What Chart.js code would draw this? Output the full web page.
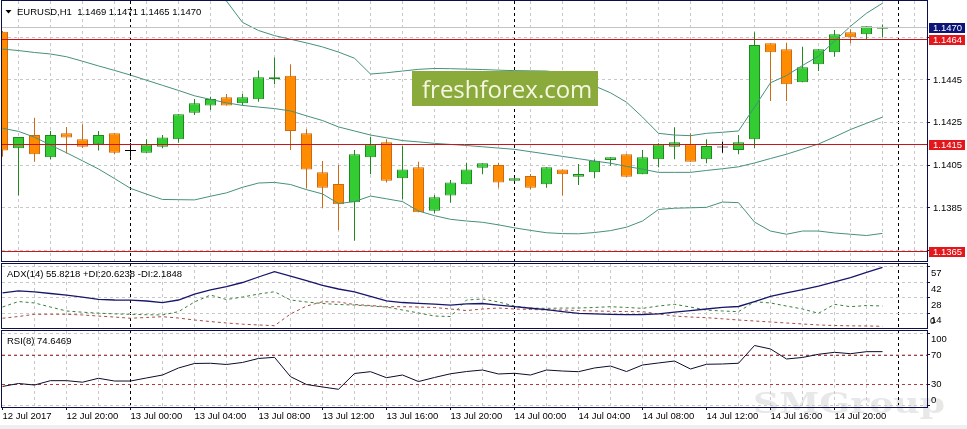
<!DOCTYPE html>
<html>
<head>
<meta charset="utf-8">
<title>EURUSD,H1</title>
<script src="https://cdn.jsdelivr.net/npm/chart.js@4.4.1/dist/chart.umd.min.js"></script>
<style>
  html, body { margin: 0; padding: 0; background: #fff; }
  #wrap { position: relative; width: 967px; height: 429px; overflow: hidden; background: #fff; }
  #wrap canvas { position: absolute; left: 0; }
  #cMain { top: 0; }
  #cAdx { top: 262px; }
  #cRsi { top: 329px; }
</style>
</head>
<body>
<div id="wrap">
  <canvas id="cMain" width="967" height="263"></canvas>
  <canvas id="cAdx" width="967" height="68"></canvas>
  <canvas id="cRsi" width="967" height="100"></canvas>
</div>
<script>
// EURUSD H1, 12 Jul 16:00 .. 14 Jul 23:00 (one entry per bar)
const opens = [1.14676,1.14130,1.14192,1.14088,1.14200,1.14172,1.14149,1.14200,1.14117,1.14109,
  1.14137,1.14172,1.14297,1.14330,1.14369,1.14341,1.14360,1.14453,1.14470,1.14200,
  1.14017,1.13962,1.13877,1.14088,1.14158,1.13989,1.14041,1.13837,1.13908,1.13961,
  1.14039,1.14052,1.13978,1.14000,1.13961,1.14031,1.13997,1.14017,1.14075,1.14102,
  1.14008,1.14078,1.14137,1.14149,1.14078,1.14133,1.14122,1.14172,1.14622,1.14594,
  1.14439,1.14524,1.14580,1.14674,1.14664,1.14690];
const highs = [1.14680,1.14183,1.14273,1.14211,1.14230,1.14242,1.14211,1.14200,1.14155,1.14172,
  1.14192,1.14289,1.14361,1.14372,1.14384,1.14384,1.14494,1.14555,1.14524,1.14219,
  1.14070,1.14052,1.14122,1.14184,1.14172,1.14141,1.14067,1.13911,1.13981,1.14062,
  1.14060,1.14062,1.13989,1.14009,1.14041,1.14031,1.14056,1.14078,1.14088,1.14102,
  1.14122,1.14153,1.14228,1.14200,1.14172,1.14161,1.14192,1.14674,1.14622,1.14625,
  1.14606,1.14594,1.14684,1.14688,1.14702,1.14710];
const lows = [1.14090,1.13908,1.14067,1.14078,1.14106,1.14131,1.14119,1.14102,1.14090,1.14109,
  1.14130,1.14156,1.14286,1.14309,1.14330,1.14330,1.14348,1.14430,1.14122,1.13942,
  1.13849,1.13747,1.13697,1.14008,1.13970,1.13891,1.13830,1.13825,1.13875,1.13961,
  1.14008,1.13945,1.13978,1.13938,1.13945,1.13908,1.13958,1.13989,1.14048,1.13997,
  1.14008,1.14041,1.14078,1.14067,1.14060,1.14109,1.14102,1.14130,1.14352,1.14352,
  1.14439,1.14492,1.14559,1.14622,1.14641,1.14650];
const closes = [1.14119,1.14183,1.14102,1.14192,1.14181,1.14137,1.14192,1.14109,1.14117,1.14149,
  1.14181,1.14289,1.14341,1.14361,1.14330,1.14369,1.14463,1.14463,1.14211,1.14031,
  1.13945,1.13867,1.14102,1.14149,1.13978,1.14031,1.13830,1.13900,1.13970,1.14031,
  1.14060,1.13969,1.13989,1.13945,1.14041,1.14008,1.14009,1.14072,1.14088,1.13997,
  1.14088,1.14149,1.14158,1.14067,1.14141,1.14133,1.14158,1.14614,1.14580,1.14430,
  1.14510,1.14594,1.14664,1.14650,1.14702,1.14700];

// Bollinger bands
const bbUpper = [1.14967,1.14968,1.14976,1.14998,1.15010,1.15005,1.14999,1.15002,1.15005,1.14983,
  1.14959,1.14913,1.14865,1.14848,1.14820,1.14720,1.14682,1.14658,1.14641,1.14624,
  1.14605,1.14581,1.14552,1.14478,1.14484,1.14492,1.14500,1.14504,1.14503,1.14501,
  1.14499,1.14496,1.14494,1.14493,1.14492,1.14483,1.14459,1.14422,1.14390,1.14346,
  1.14276,1.14200,1.14192,1.14189,1.14200,1.14205,1.14211,1.14323,1.14437,1.14471,
  1.14518,1.14562,1.14632,1.14702,1.14763,1.14810];
const bbMiddle = [1.14595,1.14588,1.14579,1.14572,1.14559,1.14538,1.14516,1.14495,1.14473,1.14449,
  1.14425,1.14401,1.14376,1.14359,1.14343,1.14331,1.14323,1.14316,1.14305,1.14282,
  1.14260,1.14230,1.14211,1.14192,1.14179,1.14166,1.14160,1.14153,1.14148,1.14143,
  1.14137,1.14131,1.14125,1.14114,1.14103,1.14092,1.14081,1.14070,1.14060,1.14045,
  1.14032,1.14017,1.14017,1.14017,1.14026,1.14034,1.14043,1.14061,1.14082,1.14102,
  1.14126,1.14150,1.14183,1.14218,1.14247,1.14276];
const bbLower = [1.14224,1.14209,1.14182,1.14145,1.14109,1.14071,1.14033,1.13988,1.13942,1.13915,
  1.13890,1.13889,1.13888,1.13905,1.13921,1.13947,1.13967,1.13970,1.13960,1.13936,
  1.13916,1.13871,1.13880,1.13906,1.13893,1.13880,1.13836,1.13814,1.13797,1.13789,
  1.13783,1.13771,1.13757,1.13745,1.13734,1.13730,1.13729,1.13735,1.13744,1.13760,
  1.13789,1.13843,1.13849,1.13851,1.13853,1.13878,1.13875,1.13784,1.13742,1.13727,
  1.13742,1.13742,1.13733,1.13727,1.13721,1.13731];

// ADX(14)
const adxMain = [32.6,34.3,33.4,32.0,30.6,28.8,26.7,26.1,25.9,25.2,
  23.8,26.1,31.5,35.2,38.2,42.0,47.0,51.8,47.9,43.8,
  39.3,36.1,33.4,29.3,25.2,23.8,23.1,22.3,21.5,22.5,
  22.9,21.5,20.0,18.6,17.3,15.6,14.0,13.5,13.1,12.8,
  12.9,13.4,15.0,16.5,17.9,19.3,20.2,24.7,29.3,32.5,
  35.6,38.8,42.5,46.5,51.1,55.8218];
const plusDI = [19.7,24.7,23.4,19.7,16.1,15.0,14.1,13.5,13.1,12.7,
  12.5,15.5,24.3,30.6,26.5,28.8,31.5,33.6,26.1,24.3,
  22.9,22.0,21.5,20.6,19.7,17.0,14.3,11.5,11.1,26.1,
  27.0,24.3,20.6,18.8,18.5,18.8,18.8,19.3,20.0,19.3,
  18.5,20.6,22.2,19.7,16.9,16.1,15.5,24.5,23.4,20.6,
  17.9,14.0,22.2,20.0,21.1,20.6238];
const minusDI = [9.5,11.1,13.1,13.1,13.1,12.5,11.5,10.6,9.5,10.2,
  10.9,9.7,7.9,6.5,5.2,4.1,3.4,2.7,13.4,20.6,
  24.5,24.3,22.0,21.1,20.0,20.0,19.7,19.3,17.9,16.5,
  17.9,18.8,17.9,17.5,17.0,17.0,16.5,16.1,15.8,15.6,
  15.5,13.4,11.5,10.6,10.0,9.0,7.9,7.0,6.1,5.2,
  4.3,3.4,2.9,2.6,2.5,2.1848];

// RSI(8)
const rsi = [26.6,30.7,28.6,34.6,34.6,32.5,37.9,34.1,34.1,38.3,
  42.4,52.1,58.3,58.6,56.9,59.7,65.2,66.8,40.1,29.3,
  25.9,22.7,44.5,47.0,38.7,42.4,33.4,39.0,44.1,47.2,
  49.3,43.8,44.8,42.4,49.3,47.9,47.0,52.1,54.8,47.2,
  56.2,59.0,61.7,50.7,57.2,57.6,58.6,83.1,78.3,64.5,
  66.6,71.0,73.7,71.8,74.6,74.6469];

const timeLabels = ['12 Jul 2017','12 Jul 20:00','13 Jul 00:00','13 Jul 04:00','13 Jul 08:00',
  '13 Jul 12:00','13 Jul 16:00','13 Jul 20:00','14 Jul 00:00','14 Jul 04:00','14 Jul 08:00',
  '14 Jul 12:00','14 Jul 16:00','14 Jul 20:00'];
const labelEvery = 4;            // bars between time labels
const gridEvery = 2;             // bars between vertical grid lines
const daySeparators = [8, 32, 56];
const priceTicks = [1.1365, 1.1385, 1.1405, 1.1425, 1.1445, 1.1465];
const priceLevels = [1.1464, 1.1415, 1.1365];
const adxTicks = [57, 42, 28, 14];
const rsiTicks = [100, 70, 30, 0];
const rsiLevels = [70, 30];

// look
const FONT = { family: "'Liberation Sans', Arial, sans-serif", size: 9.5 };
const FONT_CSS = "9.5px 'Liberation Sans', Arial, sans-serif";
const NAVY = '#0e0e48';
const GRID = '#c8c8c8';
const BB = '#46907c';
const FILL = { bull: '#33cc33', bear: '#ff8c00', doji: '#000000' };
const EDGE = { bull: '#1e8a1e', bear: '#cc6a14', doji: '#000000' };
const X_MIN = -1 / 32;
const X_MAX = X_MIN + 925 / 16;

const bars = closes.map((c, i) => i);
const tone = i => closes[i] > opens[i] ? 'bull' : (closes[i] < opens[i] ? 'bear' : 'doji');
const timeLabel = v => (v % labelEvery === 0 && timeLabels[v / labelEvery]) || '';
const series = arr => bars.map(i => ({ x: i, y: arr[i] }));

function lineSet(arr, color, width, dash, order) {
  return { type: 'line', data: series(arr), borderColor: color, borderWidth: width,
    borderDash: dash || [], pointRadius: 0, tension: 0, clip: 0, order: order || 0 };
}

function timeScales(showLabels) {
  return {
    x: {
      type: 'linear', min: X_MIN, max: X_MAX, offset: false,
      afterBuildTicks: s => {
        const t = [];
        for (let v = 0; v <= X_MAX; v += gridEvery) t.push({ value: v });
        s.ticks = t;
      },
      afterFit: s => { s.height = showLabels ? 20 : 0; s.paddingLeft = 0; s.paddingRight = 0; },
      grid: {
        color: c => (c.tick && c.tick.value === 0 ? 'rgba(0,0,0,0)' : GRID),
        drawTicks: showLabels, tickLength: 3, tickWidth: 1,
        tickColor: c => (c.tick && timeLabel(c.tick.value) ? NAVY : 'rgba(0,0,0,0)')
      },
      border: { display: false, dash: [3, 3] },
      ticks: { display: showLabels, autoSkip: false, maxRotation: 0, minRotation: 0,
        align: 'start', padding: 1, font: FONT, color: '#000', callback: v => timeLabel(v) }
    },
    xs: {
      type: 'linear', min: X_MIN, max: X_MAX, offset: false,
      afterBuildTicks: s => { s.ticks = daySeparators.map(v => ({ value: v })); },
      afterFit: s => { s.height = 0; s.paddingLeft = 0; s.paddingRight = 0; },
      grid: { color: '#000', drawTicks: false },
      border: { display: false, dash: [3, 3] },
      ticks: { display: false }
    }
  };
}

function rightAxis(min, max, ticks, tickOpts) {
  return {
    position: 'right', min: min, max: max,
    afterBuildTicks: s => { s.ticks = ticks.map(v => ({ value: v })); },
    afterFit: s => { s.width = 40; s.paddingTop = 0; s.paddingBottom = 0; },
    grid: { color: GRID, tickColor: NAVY, tickLength: 3 },
    border: { display: false, dash: [3, 3] },
    ticks: Object.assign({ font: FONT, color: '#000', autoSkip: false, padding: 1 }, tickOpts)
  };
}

function frame(ctx, a) {
  ctx.strokeStyle = NAVY;
  ctx.lineWidth = 1;
  ctx.strokeRect(a.left - 0.5, a.top - 0.5, a.width + 1, a.height + 1);
}

function hline(ctx, a, y, color, dash) {
  const yy = Math.round(y) + 0.5;
  ctx.strokeStyle = color;
  ctx.lineWidth = 1;
  ctx.setLineDash(dash || []);
  ctx.beginPath();
  ctx.moveTo(a.left, yy);
  ctx.lineTo(a.right, yy);
  ctx.stroke();
  ctx.setLineDash([]);
}

function priceBox(ctx, a, y, text, bg) {
  const yy = Math.round(y);
  ctx.fillStyle = bg;
  ctx.fillRect(a.right + 2, yy - 4, 36, 10);
  ctx.fillStyle = '#fff';
  ctx.font = FONT_CSS;
  ctx.textAlign = 'left';
  ctx.textBaseline = 'middle';
  ctx.fillText(text, a.right + 6, yy + 1);
}

const last = closes.length - 1;

// ---- price panel
const mainDecor = {
  id: 'mainDecor',
  afterDatasetsDraw(chart) {
    const { ctx, chartArea: a, scales: { y } } = chart;
    ctx.save();
    ctx.beginPath();
    ctx.rect(a.left, a.top, a.width, a.height);
    ctx.clip();
    hline(ctx, a, y.getPixelForValue(closes[last]), '#c4c4c4');
    priceLevels.forEach(p => hline(ctx, a, y.getPixelForValue(p), '#c8141c'));
    ctx.fillStyle = '#8aaa3c';
    ctx.fillRect(412, 71, 186, 35);
    ctx.fillStyle = '#f6f6e2';
    ctx.font = "24px 'Open Sans', sans-serif";
    ctx.textAlign = 'left';
    ctx.textBaseline = 'alphabetic';
    ctx.fillText('freshforex.com', 422, 98);
    ctx.restore();
  },
  afterDraw(chart) {
    const { ctx, chartArea: a, scales: { y } } = chart;
    ctx.save();
    frame(ctx, a);
    ctx.fillStyle = '#000';
    ctx.beginPath();
    ctx.moveTo(5.5, 10);
    ctx.lineTo(11.5, 10);
    ctx.lineTo(8.5, 13.5);
    ctx.closePath();
    ctx.fill();
    ctx.font = FONT_CSS;
    ctx.textAlign = 'left';
    ctx.textBaseline = 'middle';
    ctx.fillText('EURUSD,H1  ' + [opens[last], highs[last], lows[last], closes[last]]
      .map(v => v.toFixed(4)).join(' '), 17, a.top + 11);
    priceLevels.forEach(p => priceBox(ctx, a, y.getPixelForValue(p), p.toFixed(4), '#e3161c'));
    priceBox(ctx, a, y.getPixelForValue(closes[last]), closes[last].toFixed(4), '#0c1478');
    ctx.restore();
  }
};

const hiddenPrice = v => priceLevels.concat([closes[last]]).some(l => Math.abs(l - v) < 0.0003);

new Chart(document.getElementById('cMain'), {
  type: 'line',
  data: {
    datasets: [
      lineSet(bbUpper, BB, 1, null, 0),
      lineSet(bbMiddle, BB, 1, null, 0),
      lineSet(bbLower, BB, 1, null, 0),
      { type: 'bar', data: bars.map(i => ({ x: i, y: [opens[i], closes[i]] })),
        backgroundColor: c => FILL[tone(c.dataIndex)], borderColor: c => EDGE[tone(c.dataIndex)],
        borderWidth: 1, borderSkipped: false, barThickness: 11, minBarLength: 1,
        grouped: false, inflateAmount: 0, clip: 0, order: 1 },
      { type: 'bar', data: bars.map(i => ({ x: i, y: [lows[i], highs[i]] })),
        backgroundColor: c => EDGE[tone(c.dataIndex)], borderWidth: 0, barThickness: 1,
        grouped: false, inflateAmount: 0, clip: 0, order: 2 }
    ]
  },
  options: {
    responsive: false, animation: false, events: [],
    layout: { padding: { left: 2, top: 1, right: 0, bottom: 2 } },
    plugins: { legend: { display: false }, tooltip: { enabled: false } },
    scales: Object.assign(timeScales(false), {
      y: rightAxis(1.1360155, 1.148203, priceTicks, {
        padding: 3, callback: v => hiddenPrice(v) ? '' : v.toFixed(4)
      })
    })
  },
  plugins: [mainDecor]
});

// ---- ADX panel
new Chart(document.getElementById('cAdx'), {
  type: 'line',
  data: {
    datasets: [
      lineSet(adxMain, '#16166c', 1.3, null, 0),
      lineSet(plusDI, '#3b7d3b', 1, [3, 3], 1),
      lineSet(minusDI, '#a84a44', 1, [3, 3], 1)
    ]
  },
  options: {
    responsive: false, animation: false, events: [],
    layout: { padding: { left: 2, top: 2, right: 0, bottom: 2 } },
    plugins: { legend: { display: false }, tooltip: { enabled: false } },
    scales: Object.assign(timeScales(false), {
      y: rightAxis(0.64, 58.82, adxTicks, { labelOffset: 7 })
    })
  },
  plugins: [{
    id: 'adxDecor',
    afterDraw(chart) {
      const { ctx, chartArea: a } = chart;
      ctx.save();
      frame(ctx, a);
      ctx.fillStyle = '#000';
      ctx.font = FONT_CSS;
      ctx.textAlign = 'left';
      ctx.textBaseline = 'middle';
      ctx.fillText('ADX(14) ' + adxMain[last].toFixed(4) + ' +DI:' + plusDI[last].toFixed(4) +
        ' -DI:' + minusDI[last].toFixed(4), 7, a.top + 10);
      ctx.fillText('0', a.right + 3, a.bottom - 7);
      ctx.restore();
    }
  }]
});

// ---- RSI panel
new Chart(document.getElementById('cRsi'), {
  type: 'line',
  data: { datasets: [lineSet(rsi, '#0c0c2c', 1, null, 0)] },
  options: {
    responsive: false, animation: false, events: [],
    layout: { padding: { left: 2, top: 2, right: 0, bottom: 2 } },
    plugins: { legend: { display: false }, tooltip: { enabled: false } },
    scales: Object.assign(timeScales(true), {
      y: rightAxis(-1.72, 103.1, rsiTicks, {
        callback: v => v === rsiTicks[0] ? ['', String(v)]
          : (v === rsiTicks[rsiTicks.length - 1] ? [String(v), ''] : String(v))
      })
    })
  },
  plugins: [{
    id: 'rsiDecor',
    beforeDraw(chart) {
      const { ctx, height } = chart;
      ctx.save();
      ctx.fillStyle = '#efefef';
      ctx.fillRect(0, height - 4, chart.width, 4);
      ctx.fillStyle = '#e8e8e8';
      ctx.font = "bold 28px 'DejaVu Serif', serif";
      ctx.textBaseline = 'alphabetic';
      const w = ctx.measureText('SMGroup').width;
      ctx.translate(753, 84);
      ctx.scale(192 / w, 1);
      ctx.fillText('SMGroup', 0, 0);
      ctx.restore();
    },
    beforeDatasetsDraw(chart) {
      const { ctx, chartArea: a, scales: { y } } = chart;
      ctx.save();
      rsiLevels.forEach(v => hline(ctx, a, y.getPixelForValue(v), '#b23a3a', [3, 3]));
      ctx.restore();
    },
    afterDraw(chart) {
      const { ctx, chartArea: a } = chart;
      ctx.save();
      frame(ctx, a);
      ctx.fillStyle = '#000';
      ctx.font = FONT_CSS;
      ctx.textAlign = 'left';
      ctx.textBaseline = 'middle';
      ctx.fillText('RSI(8) ' + rsi[last].toFixed(4), 7, a.top + 10);
      ctx.restore();
    }
  }]
});
</script>
</body>
</html>
